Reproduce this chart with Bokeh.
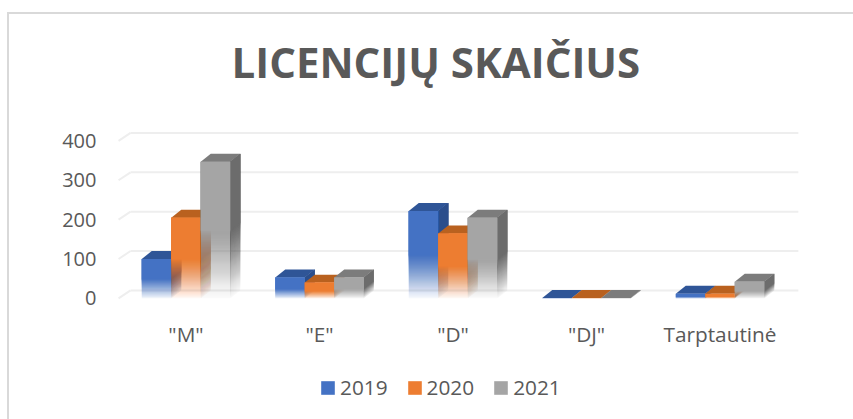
from bokeh.plotting import figure
from bokeh.models import Range1d, Legend, LegendItem, ColumnDataSource
from bokeh.embed import file_html
from bokeh.resources import INLINE

categories = ['"M"', '"E"', '"D"', '"DJ"', 'Tarptautinė']
series_names = ["2019", "2020", "2021"]
values_2019 = [100, 53, 222, 1, 12]
values_2020 = [205, 40, 165, 1, 12]
values_2021 = [347, 53, 205, 1, 42]
tick_values = [0, 100, 200, 300, 400]
front_colors = ["#4472c4", "#ed7d31", "#a5a5a5"]
top_colors = ["#2f5597", "#b9611f", "#7c7c7c"]
side_colors = ["#2b4e8c", "#ae5a1c", "#6c6c6c"]

TEXT = "#595959"
FONT = "Open Sans"
OX, OY = 7, 5                  # canvas origin on the page
W, H = 853 - OX, 419 - OY
F_L, F_R, F_T, F_B = 101, 797, 108, 400   # frame edges within the figure
PX_X = 133.5          # px per category
PX_Y = 0.395          # px per value unit
CAT0 = 185.5 - OX     # px of the first category centre within the figure
ZERO = 298 - OY - 0.5 # px of value 0 within the figure
ux, uy = 1 / PX_X, 1 / PX_Y

LINE = "linear-gradient(#d9d9d9,#d9d9d9)"
x0 = (F_L - CAT0) * ux
y0 = (ZERO - F_B) * uy
p = figure(width=W, height=H, output_backend="svg", toolbar_location=None,
           x_range=Range1d(x0, x0 + (F_R - F_L) * ux),
           y_range=Range1d(y0, y0 + (F_B - F_T) * uy),
           min_border_left=F_L, min_border_right=W - F_R,
           min_border_top=F_T, min_border_bottom=H - F_B,
           margin=(OY, 0, 0, OX),
           styles={"background": f"{LINE} 0 7px / 100% 2px no-repeat, {LINE} 0 7px / 2px 100% no-repeat"},
           title="LICENCIJŲ SKAIČIUS")
p.outline_line_color = None
p.background_fill_color = "white"
p.border_fill_alpha = 0
p.grid.visible = False

p.title.text_font = FONT
p.title.text_font_size = "42px"
p.title.text_font_style = "bold"
p.title.text_color = TEXT
p.title.align = "left"
p.title.offset = 123
p.title.standoff = 50

for ax in (p.xaxis[0], p.yaxis[0]):
    ax.axis_line_color = None
    ax.major_tick_line_color = None
    ax.minor_tick_line_color = None
    ax.major_label_text_font = FONT
    ax.major_label_text_color = TEXT
p.yaxis[0].ticker = tick_values
p.yaxis[0].major_label_standoff = 6
p.yaxis[0].major_label_text_font_size = "20px"
p.xaxis[0].ticker = list(range(len(categories)))
p.xaxis[0].major_label_overrides = dict(enumerate(categories))
p.xaxis[0].major_label_standoff = 9
p.xaxis[0].major_label_text_font_size = "20.8px"
p.xaxis[0].fixed_location = -7 * uy

# walls of the chart: back lines and slanted floor edges
G_L, G_B, G_R = -0.505, 12 * ux, 4.587
G_UP = 8 * uy
p.segment(x0=[G_L + G_B] * 5, x1=[G_R] * 5,
          y0=[v + G_UP for v in tick_values], y1=[v + G_UP for v in tick_values],
          line_color="#eeeeee", line_width=2)
p.segment(x0=[G_L] * 5, x1=[G_L + G_B] * 5,
          y0=tick_values, y1=[v + G_UP for v in tick_values],
          line_color="#eeeeee", line_width=2)

BW = 29.5 * ux
DX, DY = 10 * ux, 8 * uy
renderers = []
legend_rows = []
all_values = [values_2019, values_2020, values_2021]
for s, vals in enumerate(all_values):
    q = dict(left=[], right=[], top=[], bottom=[], alpha=[])
    sd = dict(xs=[], ys=[], alpha=[])
    tp = dict(xs=[], ys=[])
    for c, v in enumerate(vals):
        l = c - 1.5 * BW + s * BW
        r = l + BW
        n = max(1, int(round(v * PX_Y * 0.5)))
        # lower half fades out towards the floor: thin layers, each reaching up to the
        # bar's top, add up so that the opacity climbs to full at half height
        prev = 0.0
        for k in range(n):
            target = 0.03 + 0.97 * (k + 1) / n
            a = 1 - (1 - target) / (1 - prev)
            prev = target
            y1 = min(k * uy, v)
            q["left"].append(l); q["right"].append(r); q["top"].append(v); q["bottom"].append(y1); q["alpha"].append(a)
            sd["xs"].append([r, r + DX, r + DX, r]); sd["ys"].append([y1, y1 + DY, v + DY, v]); sd["alpha"].append(a)
        if c == 0:
            legend_rows.append(n - 1)
        tp["xs"].append([l, l + DX, r + DX, r]); tp["ys"].append([v, v + DY, v + DY, v])
    p.patches("xs", "ys", source=ColumnDataSource(sd), fill_color=side_colors[s], fill_alpha="alpha", line_color=None)
    p.patches("xs", "ys", source=ColumnDataSource(tp), fill_color=top_colors[s], line_color=None)
    renderers.append(p.quad(left="left", right="right", top="top", bottom="bottom",
                            source=ColumnDataSource(q), fill_color=front_colors[s],
                            fill_alpha="alpha", line_color=None))

legend = Legend(items=[LegendItem(label=n, renderers=[r], index=i)
                       for n, r, i in zip(series_names, renderers, legend_rows)],
                orientation="horizontal", location=(211, 4),
                glyph_width=17, glyph_height=17, label_standoff=4, spacing=18,
                padding=0, margin=0, border_line_color=None, background_fill_alpha=0,
                label_text_font=FONT, label_text_font_size="20.8px", label_text_color=TEXT,
                level="underlay")
p.add_layout(legend, "center")

# fade on the legend swatches: white layers painted over the legend
sw = dict(left=[], right=[], top=[], bottom=[], alpha=[])
for page_x in (321, 408, 494):
    prev = 0.0
    for k in range(7):
        target = 0.95 * (k + 1) / 7
        sw["left"].append((page_x - OX - CAT0 - 0.5) * ux)
        sw["right"].append((page_x + 14 - OX - CAT0 + 0.5) * ux)
        sw["top"].append((ZERO - (388 - OY + k)) * uy)
        sw["bottom"].append((ZERO - (397 - OY)) * uy)
        sw["alpha"].append(1 - (1 - target) / (1 - prev))
        prev = target
p.quad(left="left", right="right", top="top", bottom="bottom", source=ColumnDataSource(sw),
       fill_color="white", fill_alpha="alpha", line_color=None)

open("out.html", "w").write(file_html(p, INLINE))
